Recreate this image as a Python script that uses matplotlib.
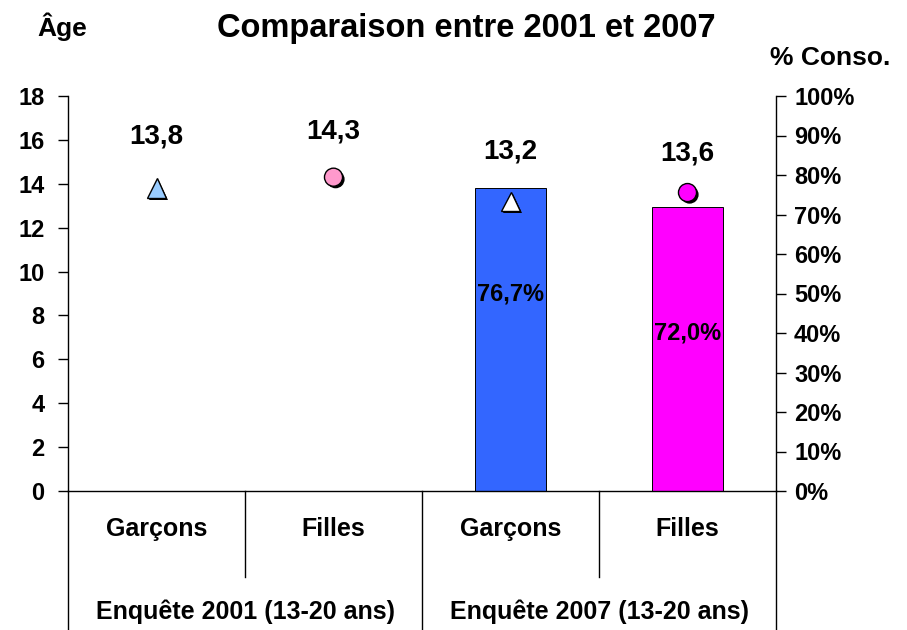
import numpy as np
import matplotlib
matplotlib.use("Agg")
import matplotlib.pyplot as plt
import matplotlib.patheffects as pe

plt.rcParams["font.family"] = ["Liberation Sans", "DejaVu Sans"]
plt.rcParams["font.weight"] = "bold"

# data
categories = ["Garçons", "Filles", "Garçons", "Filles"]
groups = ["Enquête 2001 (13-20 ans)", "Enquête 2007 (13-20 ans)"]
age_values = [13.8, 14.3, 13.2, 13.6]
age_labels = ["13,8", "14,3", "13,2", "13,6"]
conso_values = [np.nan, np.nan, 76.7, 72.0]
conso_labels = ["", "", "76,7%", "72,0%"]

marker_shapes = ["^", "o", "^", "o"]
marker_colors = ["#99CCFF", "#FF99CC", "#FFFFFF", "#FF00FF"]
bar_colors = ["#3366FF", "#3366FF", "#3366FF", "#FF00FF"]
pct_label_y = [0, 0, 50, 40]          # where the % labels sit (right axis units)
age_label_dy = [37, 33, 36, 28]       # label offset above the marker, points

fig = plt.figure(figsize=(9.07, 6.30), dpi=100)
ax = fig.add_axes([68 / 907, 1 - 491 / 630, (776 - 68) / 907, 395 / 630])
ax2 = ax.twinx()

x = np.arange(len(categories))

# bars on the percentage axis
ax2.bar(x, conso_values, width=0.4, color=bar_colors, edgecolor="black",
        linewidth=0.7, zorder=1)
for xi, lab, ly in zip(x, conso_labels, pct_label_y):
    if lab:
        ax2.text(xi, ly, lab, ha="center", va="center", fontsize=17,
                 fontweight="bold", zorder=3)
ax2.set_ylim(0, 100)
ax2.set_yticks(np.arange(0, 101, 10))
ax2.set_yticklabels([f"{v}%" for v in range(0, 101, 10)])

# age markers on the left axis, drawn above the bars
ax.set_zorder(ax2.get_zorder() + 1)
ax.patch.set_visible(False)
shadow = [pe.SimplePatchShadow(offset=(1.5, -1.5), shadow_rgbFace="black",
                               alpha=1.0), pe.Normal()]
for xi, v, m, c, lab, dy in zip(x, age_values, marker_shapes, marker_colors,
                                age_labels, age_label_dy):
    ax.plot([xi], [v], marker=m, markersize=14 if m == "^" else 13,
            markerfacecolor=c, markeredgecolor="black", markeredgewidth=1.0,
            linestyle="none", path_effects=shadow, zorder=4)
    ax.annotate(lab, (xi, v), xytext=(0, dy), textcoords="offset points",
                ha="center", va="center", fontsize=20, fontweight="bold")

ax.set_xlim(-0.5, 3.5)
ax2.set_xlim(-0.5, 3.5)
ax.set_ylim(0, 18)
ax.set_yticks(np.arange(0, 19, 2))
ax.set_xticks([])

for a in (ax, ax2):
    a.spines["top"].set_visible(False)
    a.tick_params(axis="y", direction="out", length=7, width=1, labelsize=17)
ax.tick_params(axis="y", pad=10)
ax2.tick_params(axis="y", pad=6)
ax2.spines["left"].set_visible(False)
ax2.spines["bottom"].set_visible(False)
ax.spines["right"].set_visible(False)
for s in ("left", "bottom"):
    ax.spines[s].set_linewidth(1.0)
ax2.spines["right"].set_linewidth(1.0)

# category table below the axis
trans = ax.get_xaxis_transform()
long_y = -139 / 395
short_y = -86 / 395
for xs, y_end in zip([-0.5, 0.5, 1.5, 2.5, 3.5],
                     [long_y, short_y, long_y, short_y, long_y]):
    ax.plot([xs, xs], [0, y_end], color="black", lw=1.0, transform=trans,
            clip_on=False)
for xi, lab in zip(x, categories):
    ax.text(xi, -38 / 395, lab, transform=trans, ha="center", va="center",
            fontsize=18, fontweight="bold")
for gi, lab in enumerate(groups):
    ax.text(2 * gi + 0.5, -121 / 395, lab, transform=trans, ha="center",
            va="center", fontsize=18, fontweight="bold")

fig.text(466 / 907, 1 - 29 / 630, "Comparaison entre 2001 et 2007",
         ha="center", va="center", fontsize=23.5, fontweight="bold")
fig.text(62 / 907, 1 - 27 / 630, "Âge", ha="center", va="center",
         fontsize=19, fontweight="bold")
fig.text(830 / 907, 1 - 58 / 630, "% Conso.", ha="center", va="center",
         fontsize=19, fontweight="bold")

fig.savefig("out.png", dpi=100)
